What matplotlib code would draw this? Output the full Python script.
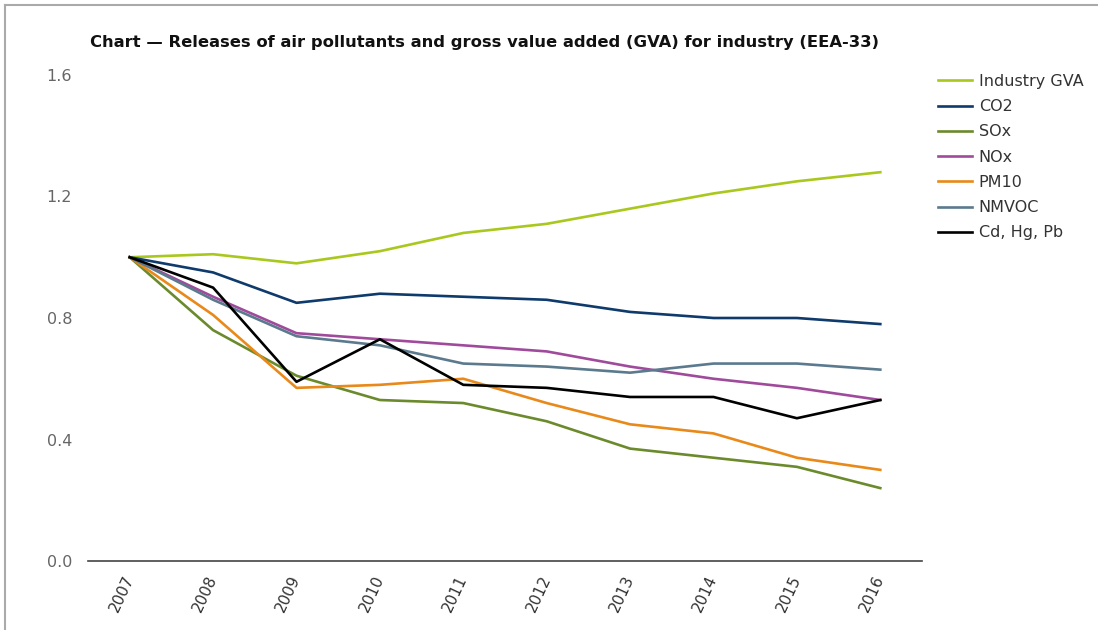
import matplotlib
matplotlib.use("Agg")
import matplotlib.pyplot as plt
from matplotlib.lines import Line2D

years = ["2007", "2008", "2009", "2010", "2011", "2012", "2013", "2014", "2015", "2016"]

industry_gva = [1.00, 1.01, 0.98, 1.02, 1.08, 1.11, 1.16, 1.21, 1.25, 1.28]
co2 = [1.00, 0.95, 0.85, 0.88, 0.87, 0.86, 0.82, 0.80, 0.80, 0.78]
sox = [1.00, 0.76, 0.61, 0.53, 0.52, 0.46, 0.37, 0.34, 0.31, 0.24]
nox = [1.00, 0.87, 0.75, 0.73, 0.71, 0.69, 0.64, 0.60, 0.57, 0.53]
pm10 = [1.00, 0.81, 0.57, 0.58, 0.60, 0.52, 0.45, 0.42, 0.34, 0.30]
nmvoc = [1.00, 0.86, 0.74, 0.71, 0.65, 0.64, 0.62, 0.65, 0.65, 0.63]
metals = [1.00, 0.90, 0.59, 0.73, 0.58, 0.57, 0.54, 0.54, 0.47, 0.53]

series = [
    ("Industry GVA", industry_gva, "#a8c81e"),
    ("CO2", co2, "#0e3a6c"),
    ("SOx", sox, "#6b8a2c"),
    ("NOx", nox, "#a04a9c"),
    ("PM10", pm10, "#e8891a"),
    ("NMVOC", nmvoc, "#5b7a8e"),
    ("Cd, Hg, Pb", metals, "#000000"),
]

W, H = 1098, 630
fig = plt.figure(figsize=(W / 100, H / 100), dpi=100)
ax = fig.add_axes([88 / W, 1 - 561 / H, (922 - 88) / W, (561 - 75) / H])

xs = range(len(years))
for name, vals, col in series:
    ax.plot(xs, vals, color=col, lw=1.9, label=name)

ax.set_xlim(-0.5, len(years) - 0.5)
ax.set_ylim(0, 1.6)
ax.set_yticks([0.0, 0.4, 0.8, 1.2, 1.6])
ax.set_yticklabels(["0.0", "0.4", "0.8", "1.2", "1.6"])
ax.set_xticks(list(xs))
ax.set_xticklabels(years, rotation=65, ha="right", va="center",
                   rotation_mode="anchor")

ax.tick_params(axis="y", length=0, pad=11.5, labelsize=11.5, labelcolor="#666666")
ax.tick_params(axis="x", length=0, pad=11, labelsize=11, labelcolor="#333333")
for s in ["top", "right", "left"]:
    ax.spines[s].set_visible(False)
ax.spines["bottom"].set_color("#444444")
ax.spines["bottom"].set_linewidth(1.2)

fig.text(90 / W, 1 - 42 / H,
         "Chart \u2014 Releases of air pollutants and gross value added (GVA) for industry (EEA-33)",
         fontsize=11.8, fontweight="bold", va="center", ha="left", color="#111111")

ax.legend(loc="upper left", bbox_to_anchor=(938 / W, 1 - 74 / H),
          bbox_transform=fig.transFigure, frameon=False, fontsize=11.5,
          handlelength=2.1, handletextpad=0.45, labelspacing=0.64,
          borderpad=0, borderaxespad=0, labelcolor="#333333")

# thin grey frame at top and left, as in the screenshot
fig.add_artist(Line2D([5 / W, 1], [1 - 5 / H, 1 - 5 / H], color="#aaaaaa", lw=1.5))
fig.add_artist(Line2D([5 / W, 5 / W], [0, 1 - 5 / H], color="#aaaaaa", lw=1.5))

fig.savefig("out.png", dpi=100)
